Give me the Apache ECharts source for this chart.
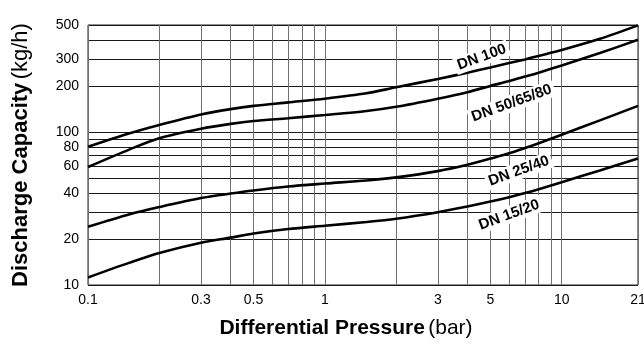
<!DOCTYPE html>
<html>
<head>
<meta charset="utf-8">
<script src="https://cdn.jsdelivr.net/npm/echarts@6/dist/echarts.min.js"></script>
<style>
  html, body { margin: 0; padding: 0; background: #fff; }
  #chart { width: 644px; height: 344px; }
</style>
</head>
<body>
<div id="chart"></div>
<script>
// differential pressure (bar) and discharge capacity (kg/h)
var pressure = [0.1, 0.15, 0.2, 0.3, 0.4, 0.5, 0.7, 1, 1.5, 2, 3, 4, 5, 6, 7, 8, 10, 14.5, 21];
var dn100 = [80, 98, 111, 130, 141, 148, 156, 165, 179, 196, 222, 244, 264, 282, 298, 314, 343, 406, 497];
var dn50 = [59, 77, 91, 105, 113, 118, 123, 129, 137, 146, 165, 182, 200, 215, 230, 244, 272, 328, 400];
var dn25 = [24, 29, 32.3, 37, 39.6, 41.5, 44, 46, 48.2, 50.5, 55.5, 61, 67, 72.5, 78.5, 84.5, 96, 119, 148];
var dn15 = [11.2, 14, 16.2, 18.9, 20.4, 21.7, 23.2, 24.4, 25.8, 27.1, 29.9, 32.6, 35.1, 37.5, 39.9, 42.3, 47, 56, 67];

var seriesNames = ['DN 100', 'DN 50/65/80', 'DN 25/40', 'DN 15/20'];
var labelPressure = [4.6, 6.15, 6.6, 6.0];
var labelCapacity = [308, 154, 55.6, 28.7];

var xTickLabels = [0.1, 0.3, 0.5, 1, 3, 5, 10, 21];
var xGrid = [0.1, 0.2, 0.3, 0.4, 0.5, 0.6, 0.7, 0.8, 0.9, 1, 2, 3, 4, 5, 6, 7, 8, 9, 10, 21];
var yTickLabels = [10, 20, 40, 60, 80, 100, 200, 300, 500];
var yGrid = [10, 20, 30, 40, 50, 60, 70, 80, 90, 100, 200, 300, 400, 500];

var lg = function (v) { return Math.log10(v); };
var fmt = function (v) { return String(+Math.pow(10, v).toPrecision(3)); };
var font = '"Liberation Sans", Arial, Helvetica, sans-serif';

function makeSeries(name, values, i) {
    return {
        name: name,
        type: 'line',
        smooth: 0.3,
        showSymbol: false,
        lineStyle: { color: '#000', width: 2.6 },
        data: pressure.map(function (p, k) { return [lg(p), lg(values[k])]; }),
        markPoint: {
            symbol: 'rect',
            symbolSize: 1,
            itemStyle: { color: 'transparent' },
            label: {
                show: true,
                position: 'inside',
                formatter: name,
                rotate: 20,
                color: '#000',
                fontFamily: font,
                fontWeight: 'bold',
                fontSize: 15,
                backgroundColor: '#fff',
                padding: [1, 3]
            },
            data: [{ coord: [lg(labelPressure[i]), lg(labelCapacity[i])] }]
        },
        z: 3
    };
}

var chart = echarts.init(document.getElementById('chart'));
var option = {
    backgroundColor: '#fff',
    animation: false,
    grid: {
        left: 88, right: 6, top: 25, bottom: 59,
        show: true, borderColor: '#222', borderWidth: 1,
        outerBoundsMode: 'none'
    },
    xAxis: {
        type: 'value',
        min: lg(0.1),
        max: lg(21),
        name: '{b|Differential Pressure} {n|(bar)}',
        nameLocation: 'middle',
        nameGap: 33,
        nameTextStyle: {
            padding: [0, 34, 0, 0],
            rich: {
                b: { fontFamily: font, fontWeight: 'bold', fontSize: 21, color: '#000' },
                n: { fontFamily: font, fontSize: 21, color: '#000' }
            }
        },
        axisLine: { show: false },
        axisTick: { show: false, customValues: xGrid.map(lg) },
        axisLabel: {
            customValues: xTickLabels.map(lg),
            formatter: fmt,
            margin: 8,
            color: '#000', fontFamily: font, fontSize: 14
        },
        splitLine: { show: true, lineStyle: { color: '#707070', width: 1 } }
    },
    yAxis: {
        type: 'value',
        min: lg(10),
        max: lg(500),
        name: '{b|Discharge Capacity} {n|(kg/h)}',
        nameLocation: 'middle',
        nameGap: 56,
        nameTextStyle: {
            rich: {
                b: { fontFamily: font, fontWeight: 'bold', fontSize: 22, color: '#000' },
                n: { fontFamily: font, fontSize: 22, color: '#000' }
            }
        },
        axisLine: { show: false },
        axisTick: { show: false, customValues: yGrid.map(lg) },
        axisLabel: {
            customValues: yTickLabels.map(lg),
            formatter: fmt,
            margin: 9,
            color: '#000', fontFamily: font, fontSize: 14
        },
        splitLine: { show: true, lineStyle: { color: '#1a1a1a', width: 1 } }
    },
    series: [
        makeSeries(seriesNames[0], dn100, 0),
        makeSeries(seriesNames[1], dn50, 1),
        makeSeries(seriesNames[2], dn25, 2),
        makeSeries(seriesNames[3], dn15, 3)
    ]
};
chart.setOption(option);
</script>
</body>
</html>
